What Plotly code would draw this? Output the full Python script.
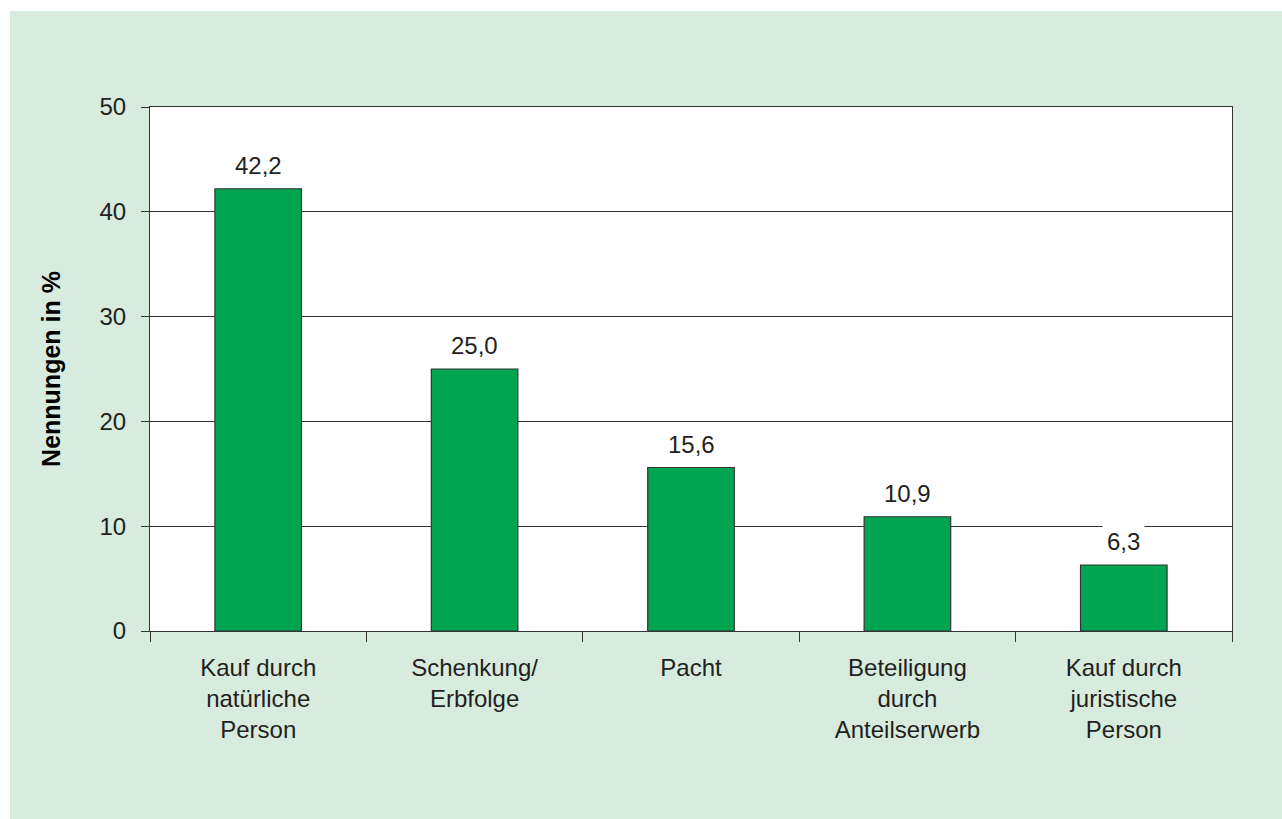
import plotly.graph_objects as go

categories = ["Kauf durch<br>natürliche<br>Person", "Schenkung/<br>Erbfolge", "Pacht",
              "Beteiligung<br>durch<br>Anteilserwerb", "Kauf durch<br>juristische<br>Person"]
values = [42.2, 25.0, 15.6, 10.9, 6.3]
value_labels = ["42,2", "25,0", "15,6", "10,9", "6,3"]
y_ticks = [0, 10, 20, 30, 40, 50]

BG = "#d7ebde"
BAR = "#00a551"
LINE = "#333333"
TXT = "#231f20"
FONT = "Liberation Sans"

fig = go.Figure()
fig.add_trace(go.Bar(
    x=categories, y=values, width=0.4,
    marker=dict(color=BAR, line=dict(color=LINE, width=1.2)),
    hoverinfo="skip",
))

for c, v, t in zip(categories, values, value_labels):
    fig.add_annotation(x=c, y=v, text=t, showarrow=False, yanchor="bottom",
                       yshift=4, bgcolor="white", borderpad=4, height=30,
                       font=dict(family=FONT, size=24, color=TXT))

W, H = 1282, 819
L, R, T, B = 150, 50, 107, 188
pw, ph = W - L - R, H - T - B

# white outer border on top and left
fig.add_shape(type="rect", xref="paper", yref="paper", layer="below",
              x0=(-20 - L) / pw, x1=(10 - L) / pw, y0=-1, y1=2,
              fillcolor="white", line=dict(width=0))
fig.add_shape(type="rect", xref="paper", yref="paper", layer="below",
              x0=-1, x1=2, y0=(H - 11 - B) / ph, y1=(H + 20 - B) / ph,
              fillcolor="white", line=dict(width=0))

fig.update_layout(
    width=W, height=H,
    margin=dict(l=L, r=R, t=T, b=B),
    paper_bgcolor=BG, plot_bgcolor="white",
    showlegend=False,
    font=dict(family=FONT, size=24, color=TXT),
    bargap=0.6,
)
fig.update_xaxes(
    type="category", tickson="boundaries", ticks="outside", ticklen=10,
    tickcolor=LINE, tickwidth=1.2, showline=True, linecolor=LINE, linewidth=1.2,
    mirror=True, showgrid=False, ticklabelstandoff=15,
    tickfont=dict(family=FONT, size=24, color=TXT),
)
fig.update_yaxes(
    range=[0, 50], tickvals=y_ticks, ticks="outside", ticklen=8,
    tickcolor=LINE, tickwidth=1.2, showline=True, linecolor=LINE, linewidth=1.2,
    mirror=True, showgrid=True, gridcolor=LINE, gridwidth=1.2, zeroline=False,
    ticklabelstandoff=10,
    tickfont=dict(family=FONT, size=24, color=TXT),
    title=dict(text="<b>Nennungen in %</b>", standoff=31,
               font=dict(family=FONT, size=25, color="black")),
)

fig.write_html(
    "out.html",
    config={"displayModeBar": False},
    post_script=("document.documentElement.style.overflow='hidden';"
                 "document.body.style.margin='0';document.body.style.overflow='hidden';"),
)
